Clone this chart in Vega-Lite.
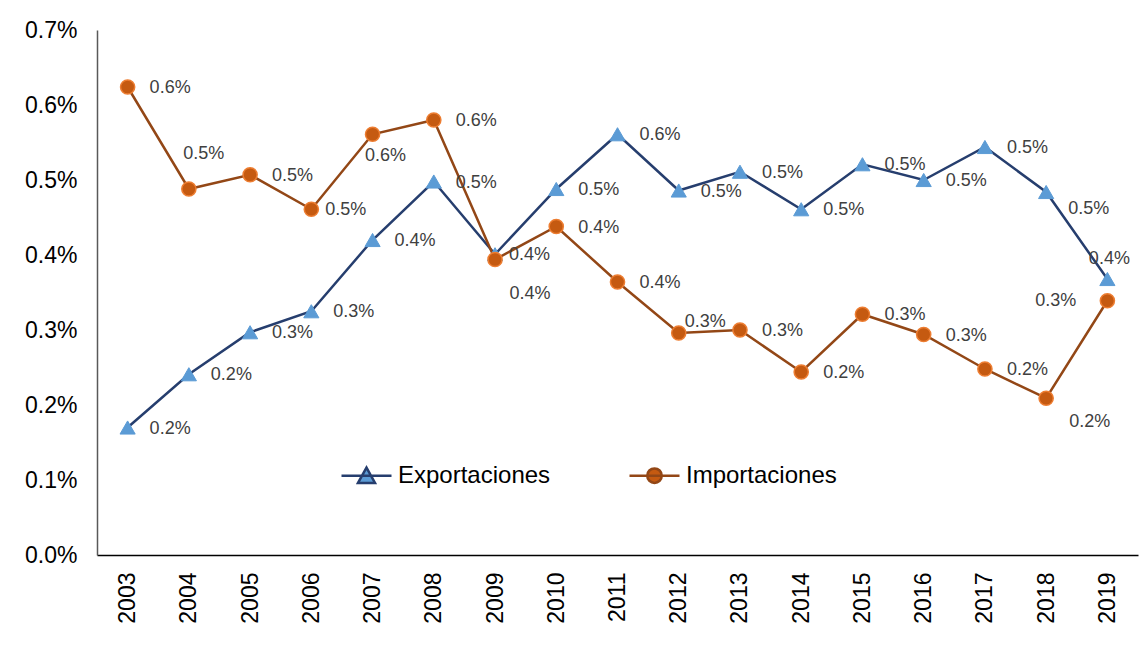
{
  "$schema": "https://vega.github.io/schema/vega-lite/v6.json",
  "autosize": {"type": "none"},
  "width": 1041,
  "height": 525,
  "padding": {"left": 97, "top": 30, "right": 2, "bottom": 96},
  "background": "white",
  "config": {
    "view": {"stroke": null},
    "font": "Liberation Sans",
    "text": {"font": "Liberation Sans", "fontSize": 18, "fill": "#404040"}
  },
  "data": {"values": [
    {"anio": "2003", "serie": "Exportaciones", "valor": 0.00170},
    {"anio": "2004", "serie": "Exportaciones", "valor": 0.00241},
    {"anio": "2005", "serie": "Exportaciones", "valor": 0.00297},
    {"anio": "2006", "serie": "Exportaciones", "valor": 0.00325},
    {"anio": "2007", "serie": "Exportaciones", "valor": 0.00420},
    {"anio": "2008", "serie": "Exportaciones", "valor": 0.00498},
    {"anio": "2009", "serie": "Exportaciones", "valor": 0.00401},
    {"anio": "2010", "serie": "Exportaciones", "valor": 0.00488},
    {"anio": "2011", "serie": "Exportaciones", "valor": 0.00561},
    {"anio": "2012", "serie": "Exportaciones", "valor": 0.00486},
    {"anio": "2013", "serie": "Exportaciones", "valor": 0.00511},
    {"anio": "2014", "serie": "Exportaciones", "valor": 0.00461},
    {"anio": "2015", "serie": "Exportaciones", "valor": 0.00521},
    {"anio": "2016", "serie": "Exportaciones", "valor": 0.00500},
    {"anio": "2017", "serie": "Exportaciones", "valor": 0.00544},
    {"anio": "2018", "serie": "Exportaciones", "valor": 0.00484},
    {"anio": "2019", "serie": "Exportaciones", "valor": 0.00368},
    {"anio": "2003", "serie": "Importaciones", "valor": 0.00624},
    {"anio": "2004", "serie": "Importaciones", "valor": 0.00488},
    {"anio": "2005", "serie": "Importaciones", "valor": 0.00507},
    {"anio": "2006", "serie": "Importaciones", "valor": 0.00461},
    {"anio": "2007", "serie": "Importaciones", "valor": 0.00561},
    {"anio": "2008", "serie": "Importaciones", "valor": 0.00580},
    {"anio": "2009", "serie": "Importaciones", "valor": 0.00394},
    {"anio": "2010", "serie": "Importaciones", "valor": 0.00438},
    {"anio": "2011", "serie": "Importaciones", "valor": 0.00364},
    {"anio": "2012", "serie": "Importaciones", "valor": 0.00296},
    {"anio": "2013", "serie": "Importaciones", "valor": 0.00300},
    {"anio": "2014", "serie": "Importaciones", "valor": 0.00244},
    {"anio": "2015", "serie": "Importaciones", "valor": 0.00321},
    {"anio": "2016", "serie": "Importaciones", "valor": 0.00294},
    {"anio": "2017", "serie": "Importaciones", "valor": 0.00248},
    {"anio": "2018", "serie": "Importaciones", "valor": 0.00209},
    {"anio": "2019", "serie": "Importaciones", "valor": 0.00339}
  ]},
  "encoding": {
    "x": {
      "field": "anio", "type": "ordinal",
      "scale": {"type": "point", "padding": 0.5},
      "axis": {
        "title": null, "labelAngle": -90, "labelFontSize": 23, "labelColor": "#000",
        "labelFont": "Liberation Sans", "labelPadding": 17, "ticks": false,
        "domainColor": "#000", "domainWidth": 1.5, "grid": false
      }
    },
    "y": {
      "field": "valor", "type": "quantitative",
      "scale": {"domain": [0, 0.007], "nice": false},
      "axis": {
        "title": null, "format": ".1%", "values": [0, 0.001, 0.002, 0.003, 0.004, 0.005, 0.006, 0.007],
        "labelFontSize": 23, "labelColor": "#000", "labelFont": "Liberation Sans",
        "labelPadding": 20, "ticks": false, "grid": false,
        "domainColor": "#595959", "domainWidth": 1.5
      }
    }
  },
  "layer": [
    {
      "mark": {"type": "line", "strokeWidth": 2.5},
      "encoding": {
        "color": {
          "field": "serie", "type": "nominal",
          "scale": {"domain": ["Exportaciones", "Importaciones"], "range": ["#263E6E", "#934716"]},
          "legend": {
            "orient": "none", "legendX": 243, "legendY": 419, "direction": "horizontal",
            "title": null, "padding": 0,
            "symbolSize": 2500, "symbolStrokeWidth": 2.5,
            "labelFontSize": 24, "labelFont": "Liberation Sans", "labelColor": "#000",
            "labelOffset": 5, "columnPadding": 73,
            "symbolType": "M-1,0H1",
            "encode": {"symbols": {"update": {
              "shape": {"signal": "datum.value === 'Exportaciones' ? 'M-1,0H1M-0.34,0.29L0,-0.32L0.34,0.29Z' : 'M-1,0H1M-0.29,0A0.29,0.29,0,1,1,0.29,0A0.29,0.29,0,1,1,-0.29,0Z'"},
              "fill": {"signal": "datum.value === 'Exportaciones' ? '#5B9BD5' : '#C55A11'"}
            }}}
          }
        }
      }
    },
    {
      "transform": [{"filter": "datum.serie === 'Exportaciones'"}],
      "mark": {"type": "point", "shape": "triangle-up", "filled": true, "size": 230, "opacity": 1, "fill": "#5B9BD5", "stroke": "#5B9BD5", "strokeWidth": 1}
    },
    {
      "transform": [{"filter": "datum.serie === 'Importaciones'"}],
      "mark": {"type": "point", "shape": "circle", "filled": true, "size": 200, "opacity": 1, "fill": "#C55A11", "stroke": "#ED7D31", "strokeWidth": 1.5}
    },
    {
      "transform": [{"filter": "!((datum.serie === 'Importaciones' && indexof(['2004','2006','2007','2009','2012','2018','2019'], datum.anio) >= 0) || (datum.serie === 'Exportaciones' && indexof(['2009','2018','2019'], datum.anio) >= 0))"}],
      "mark": {"type": "text", "align": "left", "baseline": "middle", "dx": 22, "dy": 1},
      "encoding": {"text": {"field": "valor", "type": "quantitative", "format": ".1%"}}
    },
    {
      "transform": [{"filter": "(datum.serie === 'Importaciones' && datum.anio === '2006') || (datum.serie === 'Exportaciones' && datum.anio === '2009')"}],
      "mark": {"type": "text", "align": "left", "baseline": "middle", "dx": 14, "dy": 1},
      "encoding": {"text": {"field": "valor", "type": "quantitative", "format": ".1%"}}
    },
    {
      "transform": [{"filter": "datum.serie === 'Importaciones' && datum.anio === '2004'"}],
      "mark": {"type": "text", "align": "center", "baseline": "middle", "dx": 15, "dy": -35},
      "encoding": {"text": {"field": "valor", "type": "quantitative", "format": ".1%"}}
    },
    {
      "transform": [{"filter": "datum.serie === 'Importaciones' && datum.anio === '2007'"}],
      "mark": {"type": "text", "align": "center", "baseline": "middle", "dx": 13, "dy": 22},
      "encoding": {"text": {"field": "valor", "type": "quantitative", "format": ".1%"}}
    },
    {
      "transform": [{"filter": "datum.serie === 'Importaciones' && datum.anio === '2009'"}],
      "mark": {"type": "text", "align": "center", "baseline": "middle", "dx": 35, "dy": 34},
      "encoding": {"text": {"field": "valor", "type": "quantitative", "format": ".1%"}}
    },
    {
      "transform": [{"filter": "datum.serie === 'Importaciones' && datum.anio === '2012'"}],
      "mark": {"type": "text", "align": "left", "baseline": "middle", "dx": 6, "dy": -11},
      "encoding": {"text": {"field": "valor", "type": "quantitative", "format": ".1%"}}
    },
    {
      "transform": [{"filter": "datum.serie === 'Importaciones' && datum.anio === '2018'"}],
      "mark": {"type": "text", "align": "left", "baseline": "middle", "dx": 23, "dy": 24},
      "encoding": {"text": {"field": "valor", "type": "quantitative", "format": ".1%"}}
    },
    {
      "transform": [{"filter": "datum.serie === 'Importaciones' && datum.anio === '2019'"}],
      "mark": {"type": "text", "align": "right", "baseline": "middle", "dx": -31, "dy": 0},
      "encoding": {"text": {"field": "valor", "type": "quantitative", "format": ".1%"}}
    },
    {
      "transform": [{"filter": "datum.serie === 'Exportaciones' && datum.anio === '2018'"}],
      "mark": {"type": "text", "align": "left", "baseline": "middle", "dx": 22, "dy": 17},
      "encoding": {"text": {"field": "valor", "type": "quantitative", "format": ".1%"}}
    },
    {
      "transform": [{"filter": "datum.serie === 'Exportaciones' && datum.anio === '2019'"}],
      "mark": {"type": "text", "align": "center", "baseline": "middle", "dx": 2, "dy": -20},
      "encoding": {"text": {"field": "valor", "type": "quantitative", "format": ".1%"}}
    }
  ]
}
